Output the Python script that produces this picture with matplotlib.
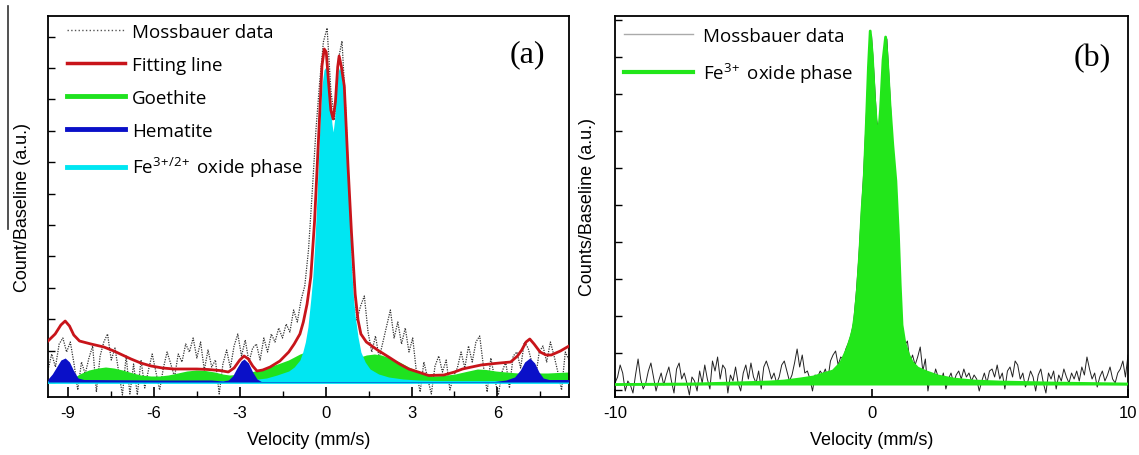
import matplotlib.pyplot as plt
import numpy as np
from matplotlib.lines import Line2D
from matplotlib.ticker import MultipleLocator, NullFormatter

plt.rcParams['axes.unicode_minus'] = False
plt.rcParams['mathtext.fontset'] = 'custom'
plt.rcParams['mathtext.rm'] = 'Open Sans'
plt.rcParams['font.family'] = ['Liberation Sans', 'DejaVu Sans']

# ---------------- panel (a): measured spectrum and fitted components ----------------
counts_a = [12, 28, 15, 38, 44, 30, 40, 18, -8, 20,
            8, 24, 36, -10, 26, 40, 48, 22, 34, 10,
            -13, 26, -12, 18, -13, 22, -6, 12, 28, 10,
            -8, 14, 30, 18, 5, 28, 20, 38, 30, 44,
            24, 40, 12, 32, 15, 22, -12, 18, 32, 14,
            36, 48, 26, 42, 20, 34, 38, 22, 44, 30,
            48, 40, 54, 44, 58, 50, 72, 60, 82, 96,
            132, 190, 252, 300, 340, 354, 292, 262, 322, 341,
            272, 182, 112, 62, 76, 86, 50, 30, 46, 24,
            40, 56, 72, 44, 60, 38, 54, 30, 44, 10,
            -10, 20, 4, -12, 16, 26, 10, 22, -8, 6,
            14, 30, 14, 36, 20, 40, 46, 16, -10, 24,
            4, -13, 10, 20, -6, 26, 30, 14, 40, 34,
            20, 4, 30, 36, 20, 40, 26, 10, -8, 30, 22]
velocity_a = np.linspace(-9.7, 8.5, len(counts_a))

fit_v = [-9.7, -9.45, -9.25, -9.1, -8.95, -8.8, -8.6, -8.2, -7.75, -7.4,
         -7.1, -6.8, -6.46, -6.1, -5.7, -5.3, -4.9, -4.5, -4.1, -3.7,
         -3.4, -3.2, -3.0, -2.85, -2.7, -2.55, -2.4, -2.2, -1.94, -1.6,
         -1.29, -1.1, -0.9, -0.78, -0.65, -0.52, -0.39, -0.23, -0.13, -0.05,
         0.02, 0.1, 0.18, 0.26, 0.34, 0.42, 0.47, 0.55, 0.65, 0.78,
         0.9, 1.03, 1.13, 1.23, 1.42, 1.81, 2.2, 2.58, 2.9, 3.23,
         3.6, 4.13, 4.5, 4.78, 5.1, 5.43, 5.9, 6.46, 6.7, 6.85,
         7.0, 7.13, 7.28, 7.49, 7.7, 7.88, 8.2, 8.5]
fit_y = [41, 48, 57, 61, 56, 47, 41, 38, 35, 31,
         27, 23, 19, 16, 14, 13, 13, 13, 12.5, 11.5,
         10, 14, 22, 26, 23, 16, 11, 12, 15, 21,
         30, 38, 48, 60, 78, 105, 160, 255, 316, 333,
         330, 300, 272, 263, 280, 315, 326, 315, 296, 216,
         150, 88, 62, 48, 40, 32, 25, 18, 13, 10,
         6.5, 7, 10, 13, 15, 17, 18.5, 20, 26, 32,
         40, 43, 38, 30, 27, 27, 31, 36]

goethite_v = [-8.85, -8.6, -8.27, -7.95, -7.69, -7.4, -7.1, -6.8, -6.46, -6.1,
              -5.8, -5.5, -5.17, -4.85, -4.52, -4.2, -3.88, -3.6, -3.36, -3.1,
              -2.8, -2.55, -2.33, -2.0, -1.68, -1.3, -0.9, -0.7, -0.3, 0.3,
              0.9, 1.2, 1.42, 1.7, 1.94, 2.25, 2.58, 2.9, 3.23, 3.5,
              3.75, 4.1, 4.52, 4.9, 5.3, 5.6, 5.94, 6.3, 6.72, 7.2,
              7.75, 8.1, 8.5]
goethite_y = [3, 8, 12, 14, 15, 14, 12, 9.5, 7, 6,
              6, 7, 9, 11, 12, 11.5, 10, 8, 7, 7.5,
              9, 10.5, 12, 15, 18, 22, 28, 30, 30, 30,
              28, 25, 27, 28, 27, 24, 20, 15, 11, 8,
              6, 6.5, 8, 10.5, 13, 12.5, 11, 10, 9, 9,
              9, 9.5, 10]

hematite_v = [-9.7, -9.55, -9.4, -9.25, -9.1, -8.95, -8.8, -8.65, -8.45, -6.0,
              -4.0, -3.6, -3.4, -3.25, -3.1, -2.95, -2.85, -2.7, -2.55, -2.4,
              -2.25, 5.9, 6.3, 6.6, 6.8, 6.95, 7.13, 7.3, 7.45, 7.6,
              7.8, 8.5]
hematite_y = [3, 8, 15, 22, 24, 20, 11, 4, 2.5, 2,
              2, 1, 2, 6, 14, 21, 23, 19, 10, 3,
              0.5, 0.5, 2, 5, 12, 20, 24, 19, 10, 4,
              2.5, 2.5]

oxide_v = [-9.7, -6, -4, -3, -2.5, -2.07, -1.7, -1.29, -1.1, -0.9,
           -0.8, -0.71, -0.62, -0.52, -0.45, -0.39, -0.32, -0.26, -0.2, -0.13,
           -0.06, 0.03, 0.1, 0.17, 0.22, 0.26, 0.31, 0.37, 0.43, 0.49,
           0.56, 0.65, 0.72, 0.78, 0.85, 0.9, 0.97, 1.03, 1.13, 1.23,
           1.38, 1.55, 1.85, 2.2, 2.7, 3.23, 4.5, 6, 8.5]
oxide_y = [0, 0.5, 1, 1.5, 2.5, 4, 7, 11, 15, 22,
           30, 40, 55, 83, 105, 133, 175, 216, 258, 296,
           312, 316, 300, 275, 258, 250, 262, 290, 310, 315,
           305, 283, 240, 200, 155, 116, 85, 66, 45, 30,
           20, 13, 8, 5, 3, 2, 1, 0.5, 0]

# ---------------- panel (b): measured spectrum and Fe3+ doublet ----------------
counts_b = [2, 8, 20, 12, -6, 4, 0, -8, 10, 26,
            6, -4, 2, 14, 22, 8, -6, 4, 12, 0,
            10, 18, 4, -8, 16, 22, 6, 12, 2, -10,
            8, 4, -6, 14, 2, 20, 6, -4, 24, 14,
            28, 6, 20, 16, -8, 10, 4, 18, 2, -6,
            12, 20, 6, 22, 8, 2, 14, -4, 18, 24,
            16, 6, 12, 2, 8, 20, 24, 14, 4, 10,
            22, 36, 18, 30, 12, 14, 6, -6, 10, 8,
            14, 10, 16, 6, 24, 30, 34, 20, 28, 26,
            36, 42, 50, 62, 90, 125, 170, 215, 270, 330,
            350, 310, 265, 252, 290, 335, 346, 300, 250, 210,
            150, 90, 55, 40, 44, 22, 30, 20, 28, 38,
            14, 26, -6, 10, 4, 16, 8, 2, 12, -4,
            6, 12, 2, 10, 14, 6, 16, 8, 12, 4,
            10, 6, -6, 4, 12, 2, 14, 16, 8, 20,
            6, 12, -4, 14, 18, 8, 24, 20, 6, 12,
            -2, 4, 14, 8, -6, 10, 16, 2, -8, 12,
            6, 14, -4, 10, 4, 16, 8, 2, 12, 6,
            14, 4, 18, 10, 28, 16, 6, 12, -2, 8,
            14, 4, 10, 18, 6, 2, 12, 16, 24, 8,
            30]
velocity_b = np.linspace(-10, 10, len(counts_b))

fe3_v = [-10, -7, -5.4, -4, -3.4, -2.8, -2.27, -1.9, -1.5, -1.2,
         -0.95, -0.8, -0.72, -0.64, -0.55, -0.45, -0.37, -0.29, -0.2, -0.12,
         -0.05, 0.03, 0.12, 0.2, 0.27, 0.35, 0.45, 0.55, 0.63, 0.72,
         0.83, 0.95, 1.05, 1.12, 1.19, 1.3, 1.45, 1.58, 1.8, 2.16,
         2.6, 3.2, 4, 5, 7, 10]
fe3_y = [0.5, 1, 2, 3, 4, 6, 8, 11, 14, 22,
         36, 48, 56, 70, 95, 135, 175, 204, 262, 318,
         354, 330, 285, 258, 249, 275, 325, 348, 320, 280,
         240, 204, 150, 100, 60, 42, 30, 23, 17, 13,
         9, 6, 4, 3, 2, 1]

RED = '#c8141a'
GREEN_A = '#1fe21f'
BLUE = '#0a10c8'
CYAN = '#00e6f2'
GREEN_B = '#22e61a'

fig = plt.figure(figsize=(11.39, 4.56), dpi=100)
W, H = 1139, 456
ax1 = fig.add_axes([48 / W, 1 - 398 / H, 521 / W, 381 / H])
ax2 = fig.add_axes([615 / W, 1 - 398 / H, 513 / W, 381 / H])

# ---- (a)
ax1.plot(velocity_a, counts_a, color='#333333', lw=0.9, ls=(0, (1, 1)), zorder=1)
ax1.fill_between(goethite_v, 0, goethite_y, color=GREEN_A, lw=0, zorder=2)
ax1.fill_between(oxide_v, 0, oxide_y, color=CYAN, lw=0, zorder=3)
ax1.axhline(0, color=CYAN, lw=2.0, zorder=4)
ax1.fill_between(hematite_v, 0, hematite_y, color=BLUE, lw=0, zorder=5)
ax1.plot(fit_v, fit_y, color=RED, lw=2.0, zorder=6)

ax1.set_xlim(-9.7, 8.5)
ax1.set_ylim(-15, 366)
ax1.xaxis.set_major_locator(MultipleLocator(3))
ax1.xaxis.set_minor_locator(MultipleLocator(1.5))
ax1.yaxis.set_major_locator(MultipleLocator(31.4))
ax1.yaxis.set_major_formatter(NullFormatter())
ax1.tick_params(axis='both', which='both', direction='in', top=False, right=False)
ax1.tick_params(axis='x', which='major', length=7, width=1.2, labelsize=12, pad=6)
ax1.tick_params(axis='x', which='minor', length=4, width=1)
ax1.tick_params(axis='y', which='major', length=5, width=1)
ax1.set_xlabel('Velocity (mm/s)', fontsize=13, labelpad=8)
ax1.set_ylabel('Count/Baseline (a.u.)', fontsize=13, labelpad=9)

handles_a = [
    Line2D([], [], color='#555555', lw=1, ls=':'),
    Line2D([], [], color=RED, lw=2.5),
    Line2D([], [], color=GREEN_A, lw=3.5),
    Line2D([], [], color=BLUE, lw=3.5),
    Line2D([], [], color=CYAN, lw=3.5),
]
labels_a = ['Mossbauer data', 'Fitting line', 'Goethite', 'Hematite',
            r'Fe$^{3\!+\!/2\!+}$ oxide phase']
ax1.legend(handles_a, labels_a, loc='upper left', bbox_to_anchor=(0.004, 1.027),
           frameon=False, handlelength=3.1, handletextpad=0.35, labelspacing=0.8,
           prop={'family': 'Open Sans', 'size': 13.5})
ax1.text(0.92, 0.9, '(a)', transform=ax1.transAxes, ha='center', va='center',
         fontsize=23, family='Liberation Serif')

# ---- (b)
ax2.plot(velocity_b, counts_b, color='#222222', lw=0.7, zorder=1)
ax2.fill_between(fe3_v, 0, fe3_y, color=GREEN_B, lw=0, zorder=2)
ax2.plot(fe3_v, fe3_y, color=GREEN_B, lw=2.0, zorder=3)

ax2.set_xlim(-10, 10)
ax2.set_ylim(-12, 369)
ax2.set_xticks([-10, 0, 10])
ax2.yaxis.set_major_locator(MultipleLocator(37, offset=32))
ax2.yaxis.set_major_formatter(NullFormatter())
ax2.tick_params(axis='both', which='both', direction='in', top=False, right=False)
ax2.tick_params(axis='x', length=6, width=1.2, labelsize=12, pad=6)
ax2.tick_params(axis='y', length=5, width=1)
ax2.set_xlabel('Velocity (mm/s)', fontsize=13, labelpad=8)
ax2.set_ylabel('Counts/Baseline (a.u.)', fontsize=13, labelpad=10)

handles_b = [
    Line2D([], [], color='#aaaaaa', lw=1),
    Line2D([], [], color=GREEN_B, lw=3),
]
labels_b = ['Mossbauer data', r'Fe$^{3\!+}$ oxide phase']
ax2.legend(handles_b, labels_b, loc='upper left', bbox_to_anchor=(-0.016, 1.016),
           frameon=False, handlelength=3.7, handletextpad=0.55, labelspacing=0.8,
           prop={'family': 'Open Sans', 'size': 13.5})
ax2.text(0.93, 0.89, '(b)', transform=ax2.transAxes, ha='center', va='center',
         fontsize=23, family='Liberation Serif')

for ax in (ax1, ax2):
    for sp in ax.spines.values():
        sp.set_linewidth(1.3)

# stray vertical rule at the far left of the original figure
fig.add_artist(Line2D([8 / W, 8 / W], [1 - 7 / H, 1 - 230 / H], color='#333333', lw=1.2))

fig.savefig('out.png', dpi=100)
